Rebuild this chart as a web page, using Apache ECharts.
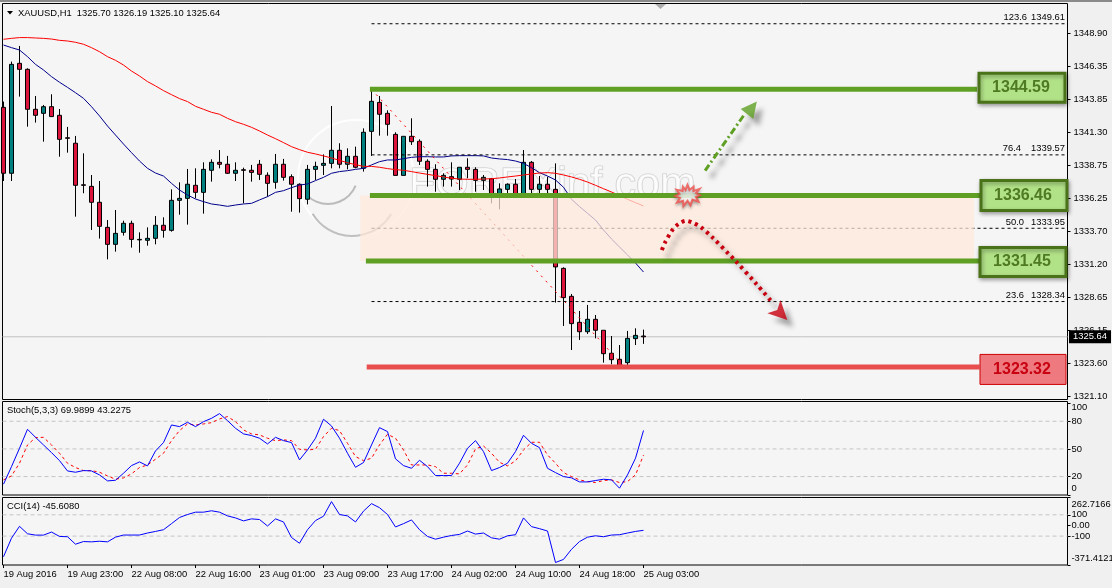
<!DOCTYPE html>
<html>
<head>
<meta charset="utf-8">
<title>XAUUSD H1</title>
<script src="https://cdn.jsdelivr.net/npm/echarts@6/dist/echarts.min.js"></script>
<style>
html,body{margin:0;padding:0;background:#f0f0f0;}
#chart{width:1112px;height:588px;}
</style>
</head>
<body>
<div id="chart"></div>
<script>
// Hourly XAUUSD candles, oldest first.
const candleOpen = [1343.21,1338.16,1346.58,1346.12,1343.06,1342.75,1343.26,1342.60,1340.88,1340.46,1337.28,1337.16,1335.94,1334.02,1332.72,1333.64,1334.33,1333.10,1333.03,1333.18,1334.18,1333.79,1336.09,1336.24,1337.24,1336.70,1338.39,1339.00,1338.85,1338.16,1338.43,1338.39,1338.85,1338.01,1337.47,1338.85,1337.90,1337.32,1336.17,1338.46,1338.77,1338.92,1339.92,1338.85,1339.46,1338.54,1341.37,1343.59,1342.75,1341.14,1338.00,1340.99,1340.61,1339.08,1338.46,1337.70,1337.90,1337.70,1338.62,1338.46,1337.62,1337.75,1336.50,1336.93,1337.32,1336.50,1339.00,1336.93,1337.32,1336.93,1330.88,1328.74,1326.75,1326.03,1326.98,1326.14,1324.38,1323.92,1323.66,1325.50,1325.70];
const candleHigh = [1343.65,1346.71,1347.91,1346.20,1344.08,1343.39,1344.21,1343.08,1341.71,1341.02,1339.69,1338.03,1337.57,1334.58,1335.35,1334.53,1334.53,1333.64,1334.02,1334.89,1334.79,1336.93,1337.47,1338.49,1338.54,1339.00,1339.23,1339.94,1339.49,1339.00,1338.59,1338.80,1339.18,1338.23,1339.64,1339.26,1338.08,1337.39,1338.80,1339.05,1339.61,1343.31,1340.46,1340.07,1340.20,1341.60,1344.59,1344.08,1342.98,1341.30,1340.99,1342.37,1340.76,1339.23,1338.85,1338.16,1339.00,1338.62,1339.31,1338.62,1338.03,1337.80,1337.39,1337.39,1337.72,1339.94,1339.10,1337.95,1337.90,1338.92,1330.96,1328.92,1327.62,1328.08,1327.31,1326.14,1325.70,1325.01,1326.09,1326.29,1326.19];
const candleLow = [1337.57,1337.57,1344.03,1341.73,1342.04,1340.58,1342.50,1339.43,1339.74,1334.84,1336.63,1333.82,1333.16,1331.57,1332.16,1333.39,1332.47,1332.08,1332.62,1332.72,1333.23,1333.69,1334.99,1334.23,1336.24,1335.07,1337.52,1338.54,1338.11,1337.57,1335.86,1337.52,1337.65,1336.37,1336.98,1337.60,1335.22,1335.15,1335.78,1337.65,1338.03,1338.54,1338.54,1338.46,1338.54,1338.29,1339.49,1341.04,1341.04,1338.00,1338.00,1340.33,1338.80,1337.14,1336.75,1337.14,1337.14,1336.88,1337.78,1336.75,1336.88,1335.86,1335.40,1336.63,1336.37,1336.37,1336.63,1336.50,1336.63,1328.26,1326.47,1324.63,1325.40,1325.86,1325.52,1323.66,1323.53,1323.32,1323.48,1325.01,1325.10];
const candleClose = [1338.16,1346.50,1346.12,1343.06,1342.60,1343.26,1342.50,1340.76,1340.84,1337.24,1337.24,1335.94,1334.10,1332.72,1333.56,1334.33,1333.10,1333.06,1333.18,1334.18,1333.79,1336.09,1336.24,1337.32,1336.70,1338.46,1339.00,1338.85,1338.16,1338.39,1338.39,1338.23,1338.08,1337.39,1338.85,1337.85,1337.32,1336.22,1338.46,1338.69,1338.92,1339.92,1338.85,1339.46,1338.62,1341.30,1343.67,1342.68,1341.91,1338.00,1340.99,1340.58,1339.08,1338.46,1337.70,1338.00,1337.72,1338.62,1338.46,1337.62,1337.85,1336.50,1336.96,1337.32,1336.50,1339.00,1336.93,1337.32,1336.93,1330.99,1328.64,1326.65,1326.03,1326.98,1326.14,1324.35,1323.89,1323.35,1325.52,1325.75,1325.64];

// Moving averages over the same bars.
const slowMA = [1348.42,1348.49,1348.55,1348.55,1348.52,1348.49,1348.44,1348.34,1348.29,1348.19,1348.04,1347.78,1347.47,1347.09,1346.81,1346.45,1345.99,1345.61,1345.18,1344.85,1344.49,1344.18,1343.88,1343.65,1343.29,1343.06,1342.83,1342.68,1342.37,1342.11,1341.91,1341.68,1341.40,1341.09,1340.81,1340.51,1340.20,1339.97,1339.77,1339.64,1339.49,1339.33,1339.15,1338.97,1338.82,1338.69,1338.69,1338.62,1338.52,1338.44,1338.39,1338.29,1338.18,1338.08,1337.98,1337.88,1337.78,1337.72,1337.70,1337.70,1337.72,1337.75,1337.80,1337.88,1337.95,1338.03,1338.11,1338.18,1338.21,1338.16,1338.03,1337.88,1337.70,1337.49,1337.24,1336.98,1336.73,1336.45,1336.17,1335.91,1335.66];
const fastMA = [1347.98,1347.78,1347.60,1347.09,1346.50,1346.07,1345.56,1345.13,1344.74,1344.33,1343.90,1343.26,1342.55,1341.78,1341.09,1340.40,1339.74,1339.10,1338.54,1338.18,1337.95,1337.39,1336.88,1336.50,1336.19,1335.99,1335.81,1335.73,1335.63,1335.73,1335.81,1335.86,1336.12,1336.37,1336.70,1336.83,1337.06,1337.26,1337.34,1337.60,1337.85,1338.16,1338.29,1338.36,1338.46,1338.54,1338.80,1339.05,1339.18,1339.18,1339.28,1339.38,1339.43,1339.43,1339.41,1339.41,1339.49,1339.51,1339.51,1339.51,1339.49,1339.33,1339.26,1339.21,1339.10,1338.92,1338.59,1338.21,1337.95,1337.65,1337.09,1336.17,1335.61,1335.10,1334.58,1333.82,1333.13,1332.52,1331.91,1331.29,1330.60];

// Stochastic (5,3,3) and CCI (14).
const stochMain = [11.7,30.8,50.7,71.3,62.6,54.3,46.0,37.3,26.1,24.7,26.5,26.1,21.8,15.3,16.0,23.6,31.9,35.9,31.6,47.8,56.9,76.0,74.2,78.9,74.2,79.6,83.2,88.3,80.7,72.4,66.3,64.5,61.6,55.4,62.6,59.0,56.9,38.1,48.9,61.6,82.2,74.9,61.6,45.3,30.1,35.2,54.3,73.1,68.8,39.2,31.9,29.0,37.7,30.8,21.1,21.1,21.1,34.5,50.7,59.0,47.1,26.5,29.8,34.5,47.1,64.8,56.1,51.4,29.0,24.3,20.0,18.6,14.2,14.2,15.7,17.1,16.4,7.4,21.8,39.9,69.9899];
const stochSignal = [16.4,20.7,34.5,54.3,62.3,62.6,54.3,45.3,34.5,29.8,26.5,26.5,24.7,20.7,17.1,18.6,22.9,29.8,32.6,38.8,45.3,59.0,69.9,77.1,76.0,77.1,78.5,82.5,85.1,79.6,70.6,66.3,65.2,61.6,59.0,59.8,59.0,49.6,48.9,49.6,63.4,72.4,69.9,56.1,41.7,37.3,39.9,54.3,65.9,61.6,48.9,32.6,32.6,32.6,30.8,23.6,23.6,22.9,32.6,50.0,53.2,45.3,35.5,31.6,37.0,48.9,57.2,57.2,43.5,34.5,24.3,20.0,16.4,14.6,13.5,15.7,16.4,13.5,14.6,21.8,43.2275];
const cciValues = [-293.7,-119,-8,-78,-90.5,-90.5,-62,-103,-106,-176,-151,-154,-148,-154,-110,-90,-90,-90,-71,-56,-40,17,75,103,125,125,138,125,90,71,43,62,56,-5,62,33,-113,-167,-40,46,87,224,103,90,33,135,205,167,103,-14,17,52,-40,-103,-129,-110,-94,-84,-52,-81,-71,-116,-129,-97,-87,71,-11,-30,-52,-348,-319,-224,-151,-110,-97,-106,-90,-87,-71,-56,-45.608];

// Axis ticks.
const priceTicks = [1348.90,1346.35,1343.85,1341.30,1338.75,1336.25,1333.70,1331.20,1328.65,1326.15,1323.60,1321.10];
const stochTicks = [0,20,50,80,100];
const stochTickText = ['0','20','50','80','100'];
const stochGuides = [80,50,20];
const cciTicks = [-371.4121,-100,0,100,262.7166];
const cciTickText = ['-371.4121','-100','0.00','100','262.7166'];
const cciGuides = [100,-100];
const timeTickBars = [0,8,16,24,32,40,48,56,64,72,80];
const timeLabels = ['19 Aug 2016','19 Aug 23:00','22 Aug 08:00','22 Aug 16:00','23 Aug 01:00','23 Aug 09:00','23 Aug 17:00','24 Aug 02:00','24 Aug 10:00','24 Aug 18:00','25 Aug 03:00'];

// Support and resistance levels, and the zone between two of them.
const levelPrices = [1344.59,1336.46,1331.45,1323.32];
const zonePrices = [1331.45,1336.46];

// Fibonacci retracement of the last swing.
const fibRatios = ['123.6','76.4','50.0','23.6'];
const fibPrices = [1349.61,1339.57,1333.95,1328.34];
const swingLine = [[46,1344.59],[77.6,1323.32]];

// Projected paths drawn on the chart.
const breakoutPath = [[87.7,1338.36],[92.56,1342.62]];
const breakoutHead = [[93.55,1343.18]];
const declinePath = [[82.3,1332.28],[82.7,1332.87],[83.7,1333.89],[84.4,1334.28],[85.3,1334.53],[86.2,1334.37],[87.2,1334.02],[88.65,1333.23],[90.7,1331.95],[91.4,1331.52],[94.15,1329.66],[96.06,1328.3]];
const declineHead = [[97.98,1326.92]];
const flashPoint = [[85.5,1336.46]];

const lastIndex = candleClose.length - 1;
const lastPrice = candleClose[lastIndex];
const barIndex = candleClose.map((_, i) => i);
const candleRows = barIndex.map(i => [i, candleOpen[i], candleClose[i], candleLow[i], candleHigh[i]]);
const pairUp = (ys) => ys.map((y, i) => [i, y]);
const FONT = '"Liberation Sans", Arial, sans-serif';
const SMALL = 9.4;
const TXT = '#000';

// Plot areas: one pixel of x equals 1/8 of a bar on all three panes.
const xRange = { min: -0.125, max: 133 };
const paneRect = [
  { left: 2.5, width: 1065, top: 3.5, height: 396 },
  { left: 2.5, width: 1065, top: 401.5, height: 93.5 },
  { left: 2.5, width: 1065, top: 497.5, height: 67.5 }
];
const grids = paneRect.map(r => Object.assign({ show: true, backgroundColor: '#f5f5f5', borderColor: '#000', borderWidth: 1 }, r));

const hiddenX = (gridIndex) => ({ type: 'value', gridIndex, min: xRange.min, max: xRange.max, show: false, splitLine: { show: false }, axisLine: { onZero: false } });

const yAxisBase = (gridIndex, min, max, ticks, labelOptions) => ({
  type: 'value', gridIndex, position: 'right', min, max, scale: true,
  splitLine: { show: false }, axisLine: { show: false, onZero: false },
  axisTick: { show: true, length: 3, customValues: ticks, lineStyle: { color: '#000' } },
  axisLabel: labelOptions
});

const flatLine = (x0, x1, y) => [[x0, y], [x1, y]];

const lineSeries = (name, data, xi, yi, color, width, z, type, extra) => Object.assign({
  name, type: 'line', xAxisIndex: xi, yAxisIndex: yi, data, symbol: 'none', z, silent: true,
  animation: false, lineStyle: { color, width, type: type || 'solid' }
}, extra || {});

const levelSpans = [[45.8, 121.7], [45.8, 122.1], [45.3, 122.0], [45.4, 122.0]];
const levelStroke = ['#5fa024', '#5fa024', '#5fa024', '#e94e4e'];

const boxLayout = [
  { x: 977.5, w: 89, dy: -1.5, h: 32 },
  { x: 979.5, w: 89, dy: 0, h: 33 },
  { x: 978.5, w: 89, dy: 1, h: 32 },
  { x: 979.5, w: 87, dy: 2.3, h: 31 }
];

function levelBoxRender(params, api) {
  const i = params.dataIndex;
  const y = api.coord([0, api.value(1)])[1];
  const b = boxLayout[i];
  const red = i === 3;
  const top = y - b.h / 2 + b.dy;
  const inset = red ? 0.5 : 1.5;
  const children = [];
  children.push({
    type: 'rect', shape: { x: b.x + inset, y: top + inset, width: b.w - 2 * inset, height: b.h - 2 * inset },
    style: {
      fill: red ? '#ee7a80' : '#b2e288', stroke: red ? '#cc0000' : '#4a7319', lineWidth: red ? 1 : 3,
      shadowBlur: red ? 0 : 4, shadowColor: 'rgba(0,0,0,0.35)', shadowOffsetX: red ? 0 : 1, shadowOffsetY: red ? 0 : 2
    }
  });
  children.push({
    type: 'text',
    style: {
      text: levelPrices[i].toFixed(2), x: b.x + b.w / 2 - 1, y: top + b.h / 2,
      align: 'center', verticalAlign: 'middle',
      fill: red ? '#c8000f' : '#4f7a24', font: 'bold 16px ' + FONT
    }
  });
  return { type: 'group', children };
}

function zoneRender(params, api) {
  const a = api.coord([api.value(0), api.value(3)]);
  const b = api.coord([api.value(1), api.value(2)]);
  return {
    type: 'rect', shape: { x: a[0], y: a[1], width: b[0] - a[0], height: b[1] - a[1] },
    style: { fill: 'rgba(253,232,217,0.74)' }
  };
}

const fibRatioRight = [1027, 1021, 1024, 1024];
function fibTextRender(params, api) {
  const i = params.dataIndex;
  const y = api.coord([0, api.value(1)])[1];
  const font = SMALL + 'px ' + FONT;
  return {
    type: 'group',
    children: [
      { type: 'text', style: { text: fibRatios[i], x: fibRatioRight[i], y: y - 6, align: 'right', verticalAlign: 'middle', fill: TXT, font } },
      { type: 'text', style: { text: fibPrices[i].toFixed(2), x: 1065, y: y - 6, align: 'right', verticalAlign: 'middle', fill: TXT, font } }
    ]
  };
}

function priceTagRender(params, api) {
  const y = api.coord([0, api.value(1)])[1];
  return {
    type: 'group',
    children: [
      { type: 'rect', shape: { x: 1069, y: y - 6.5, width: 42, height: 13 }, style: { fill: '#000' } },
      { type: 'text', style: { text: api.value(1).toFixed(2), x: 1073, y, align: 'left', verticalAlign: 'middle', fill: '#fff', font: SMALL + 'px ' + FONT } }
    ]
  };
}

// Indicator scales keep their end labels inside the pane height.
function paneLabelRender(texts, edgeShift) {
  return (params, api) => {
    const i = params.dataIndex;
    const y = api.coord([0, api.value(1)])[1];
    const shift = i === 0 ? edgeShift[0] : (i === texts.length - 1 ? edgeShift[1] : 0);
    return { type: 'text', style: { text: texts[i], x: 1071.5, y: y + shift, align: 'left', verticalAlign: 'middle', fill: TXT, font: SMALL + 'px ' + FONT } };
  };
}

const FLASH_PATH = 'path://M50 2 L58 26 L74 10 L74 30 L98 20 L84 40 L100 50 L84 58 L94 80 L70 70 L62 96 L50 76 L34 100 L32 76 L8 84 L20 62 L0 54 L18 44 L6 24 L30 30 L32 10 L42 26 Z';

const series = [
  lineSeries('Last', flatLine(xRange.min, xRange.max, lastPrice), 0, 0, '#c0c0c0', 1, 1),
  {
    name: 'XAUUSD', type: 'candlestick', xAxisIndex: 0, yAxisIndex: 0, data: candleRows, z: 2, barWidth: 4, silent: true, animation: false,
    itemStyle: { color: '#008080', color0: '#dc143c', borderColor: '#000', borderColor0: '#000', borderColorDoji: '#000', borderWidth: 1 }
  },
  lineSeries('Fast MA', pairUp(fastMA), 0, 0, '#00008b', 1, 3),
  lineSeries('Slow MA', pairUp(slowMA), 0, 0, '#ff0000', 1, 3),
  lineSeries('Swing', swingLine, 0, 0, '#ff0000', 1, 3, [2, 5])
];

fibPrices.forEach((p, i) => series.push(lineSeries('Fib ' + fibRatios[i], flatLine(46, 132.8, p), 0, 0, '#000', 1, 3, [3, 3])));

series.push({
  name: 'Zone', type: 'custom', xAxisIndex: 0, yAxisIndex: 0, z: 4, silent: true, animation: false, renderItem: zoneRender,
  data: [[44.6, 121.3, zonePrices[0], zonePrices[1]]], encode: { x: [0, 1], y: [2, 3] }
});

levelPrices.forEach((p, i) => series.push(lineSeries('Level ' + p, flatLine(levelSpans[i][0], levelSpans[i][1], p), 0, 0, levelStroke[i], 5, 5)));

series.push({
  name: 'Level boxes', type: 'custom', xAxisIndex: 0, yAxisIndex: 0, z: 6, silent: true, animation: false, renderItem: levelBoxRender,
  data: levelPrices.map(p => [122, p]), encode: { x: 0, y: 1 }
});
series.push({
  name: 'Fib labels', type: 'custom', xAxisIndex: 0, yAxisIndex: 0, z: 6, silent: true, animation: false, renderItem: fibTextRender,
  data: fibPrices.map(p => [125, p]), encode: { x: 0, y: 1 }
});
series.push({
  name: 'Price tag', type: 'custom', xAxisIndex: 0, yAxisIndex: 0, z: 7, silent: true, animation: false, renderItem: priceTagRender,
  data: [[133, lastPrice]], encode: { x: 0, y: 1 }
});

const pathShadow = { shadowColor: 'rgba(60,60,60,0.55)', shadowBlur: 5, shadowOffsetX: 6, shadowOffsetY: 7 };
series.push(lineSeries('Breakout path', breakoutPath, 0, 0, '#5fa024', 3, 7, [7, 3, 2, 3], { lineStyle: Object.assign({ color: '#5fa024', width: 3, type: [7, 3, 2, 3] }, pathShadow) }));
series.push({
  name: 'Breakout head', type: 'scatter', xAxisIndex: 0, yAxisIndex: 0, data: breakoutHead, symbol: 'triangle', symbolSize: [16, 16], symbolRotate: -38, z: 7, silent: true, animation: false,
  itemStyle: Object.assign({ color: '#5fa024' }, pathShadow)
});
series.push(lineSeries('Decline path', declinePath, 0, 0, '#c8000f', 4, 7, [3, 4], { smooth: 0.3, lineStyle: Object.assign({ color: '#c8000f', width: 4, type: [3, 4] }, pathShadow) }));
series.push({
  name: 'Decline head', type: 'scatter', xAxisIndex: 0, yAxisIndex: 0, data: declineHead, symbol: 'arrow', symbolSize: [14, 19], symbolRotate: -135, z: 7, silent: true, animation: false,
  itemStyle: Object.assign({ color: '#c8000f' }, pathShadow)
});
series.push({
  name: 'Flash', type: 'scatter', xAxisIndex: 0, yAxisIndex: 0, data: flashPoint, symbol: FLASH_PATH, symbolSize: [25, 21], z: 8, silent: true, animation: false,
  itemStyle: { color: '#ffffff', borderColor: '#f0504c', borderWidth: 2, shadowColor: 'rgba(60,60,60,0.4)', shadowBlur: 3, shadowOffsetY: 2 }
});

// Stochastic pane.
stochGuides.forEach(v => series.push(lineSeries('Stoch ' + v, flatLine(xRange.min, xRange.max, v), 1, 1, '#c4c4c4', 1, 1, [4, 3])));
series.push(lineSeries('Stoch signal', pairUp(stochSignal), 1, 1, '#ff0000', 1, 2, [3, 3]));
series.push(lineSeries('Stoch main', pairUp(stochMain), 1, 1, '#0000ff', 1, 3));
series.push({
  name: 'Stoch scale', type: 'custom', xAxisIndex: 1, yAxisIndex: 1, z: 6, silent: true, animation: false, renderItem: paneLabelRender(stochTickText, [-6.5, 5]),
  data: stochTicks.map(v => [0, v]), encode: { x: 0, y: 1 }
});

// CCI pane.
cciGuides.forEach(v => series.push(lineSeries('CCI ' + v, flatLine(xRange.min, xRange.max, v), 2, 2, '#c4c4c4', 1, 1, [4, 3])));
series.push(lineSeries('CCI', pairUp(cciValues), 2, 2, '#0000ff', 1, 3));
series.push({
  name: 'CCI scale', type: 'custom', xAxisIndex: 2, yAxisIndex: 2, z: 6, silent: true, animation: false, renderItem: paneLabelRender(cciTickText, [-7, 6.5]),
  data: cciTicks.map(v => [0, v]), encode: { x: 0, y: 1 }
});

// Chart captions and the faint backdrop logo.
const captionStyle = { font: SMALL + 'px ' + FONT, fill: TXT };
const graphicElements = [
  { type: 'rect', z: 50, shape: { x: 0, y: 0, width: 1112, height: 2 }, style: { fill: '#8a8a8a' } },
  { type: 'polygon', z: 50, shape: { points: [[7, 11], [13, 11], [10, 14.5]] }, style: { fill: '#000' } },
  { type: 'polygon', z: 50, shape: { points: [[655, 4], [666, 4], [660.5, 9]] }, style: { fill: '#adadad' } },
  { type: 'text', z: 50, style: Object.assign({ x: 18, y: 13, verticalAlign: 'middle',
      text: 'XAUUSD,H1  ' + [candleOpen[lastIndex], candleHigh[lastIndex], candleLow[lastIndex], candleClose[lastIndex]].map(v => v.toFixed(2)).join(' ') }, captionStyle) },
  { type: 'text', z: 50, style: Object.assign({ x: 7, y: 410.5, verticalAlign: 'middle',
      text: 'Stoch(5,3,3) ' + stochMain[lastIndex].toFixed(4) + ' ' + stochSignal[lastIndex].toFixed(4) }, captionStyle) },
  { type: 'text', z: 50, style: Object.assign({ x: 7, y: 506.5, verticalAlign: 'middle',
      text: 'CCI(14) ' + cciValues[lastIndex].toFixed(4) }, captionStyle) },
  { type: 'arc', z: 1, shape: { cx: 356, cy: 178, r: 58, startAngle: 0, endAngle: Math.PI * 2 }, style: { fill: 'none', stroke: 'rgba(255,255,255,0.9)', lineWidth: 2 } },
  { type: 'arc', z: 1, shape: { cx: 352, cy: 190, r: 46, startAngle: 0.55, endAngle: 2.6 }, style: { fill: 'none', stroke: 'rgba(130,130,130,0.5)', lineWidth: 2 } },
  { type: 'arc', z: 1, shape: { cx: 328, cy: 174, r: 30, startAngle: 0.4, endAngle: 2.3 }, style: { fill: 'none', stroke: 'rgba(130,130,130,0.5)', lineWidth: 2 } },
  { type: 'text', z: 1, style: { x: 409, y: 185, verticalAlign: 'middle', text: 'FOREXinf.com', font: '43px ' + FONT,
      fill: 'rgba(255,255,255,0.7)', stroke: 'rgba(120,120,120,0.35)', lineWidth: 1.2 } }
];

const priceFmt = v => Number(v).toFixed(2);
const xFmt = v => { const at = timeTickBars.indexOf(Math.round(v)); return at >= 0 ? timeLabels[at] : ''; };

const option = {
  animation: false,
  backgroundColor: '#f0f0f0',
  grid: grids,
  xAxis: [
    hiddenX(0), hiddenX(1),
    {
      type: 'value', gridIndex: 2, min: xRange.min, max: xRange.max, position: 'bottom',
      splitLine: { show: false }, axisLine: { show: false, onZero: false },
      axisTick: { show: true, length: 3, customValues: timeTickBars, lineStyle: { color: '#000' } },
      axisLabel: { customValues: timeTickBars, formatter: xFmt, align: 'left', margin: 5, color: TXT, fontFamily: FONT, fontSize: SMALL, hideOverlap: false, showMinLabel: true, showMaxLabel: true }
    }
  ],
  yAxis: [
    yAxisBase(0, 1320.84, 1351.16, priceTicks, { customValues: priceTicks, formatter: priceFmt, margin: 6, color: TXT, fontFamily: FONT, fontSize: SMALL, hideOverlap: false }),
    yAxisBase(1, 0, 101.45, stochTicks, { show: false }),
    yAxisBase(2, -371.4121, 262.7166, cciTicks, { show: false })
  ],
  series,
  graphic: { elements: graphicElements }
};

const chart = echarts.init(document.getElementById('chart'), null, { renderer: 'canvas' });
chart.setOption(option);
</script>
</body>
</html>
